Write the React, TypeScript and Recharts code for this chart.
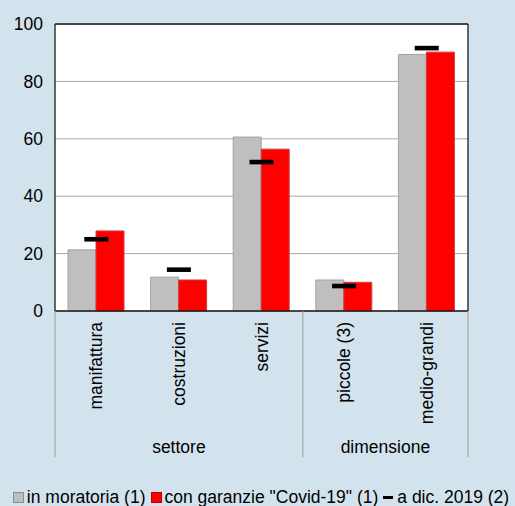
import React from 'react';
import {
  ComposedChart,
  Bar,
  Line,
  XAxis,
  YAxis,
  CartesianGrid,
  ReferenceLine,
  Legend,
} from 'recharts';

const categories = ['manifattura', 'costruzioni', 'servizi', 'piccole (3)', 'medio-grandi'];
const groups = ['settore', 'settore', 'settore', 'dimensione', 'dimensione'];
const moratoria = [21.3, 11.8, 60.6, 10.8, 89.4];
const garanzie = [27.9, 10.8, 56.4, 10.0, 90.2];
const dic2019 = [25.0, 14.4, 51.9, 8.7, 91.6];
const yTicks = [0, 20, 40, 60, 80, 100];

const seriesOrder = ['moratoria', 'garanzie', 'dic2019'];
const seriesNames = {
  moratoria: 'in moratoria (1)',
  garanzie: 'con garanzie "Covid-19" (1)',
  dic2019: 'a dic. 2019 (2)',
};

const data = categories.map((name, i) => ({
  name,
  group: groups[i],
  moratoria: moratoria[i],
  garanzie: garanzie[i],
  dic2019: dic2019[i],
}));

const W = 515;
const H = 506;
const LEFT_AXIS_W = 55;
const RIGHT_AXIS_W = 47;
const X_AXIS_H = 175;
const LEGEND_H = 20;
const PLOT_W = W - LEFT_AXIS_W - RIGHT_AXIS_W;
const BAND = PLOT_W / categories.length;

const FONT = '"Liberation Sans", Arial, Helvetica, sans-serif';
const FS = 17.5;
const BG = '#D3E3ED';

const XTick = (props: any) => {
  const { x, y, payload, index } = props;
  const i = index as number;
  const g = groups[i];
  const isFirst = i === 0 || groups[i - 1] !== g;
  const isLast = i === groups.length - 1;
  let span = 0;
  if (isFirst) {
    let j = i;
    while (j < groups.length && groups[j] === g) j++;
    span = j - i;
  }
  const ly = y + 11;
  return (
    <g>
      <text
        x={x}
        y={ly}
        transform={`rotate(-90, ${x}, ${ly})`}
        textAnchor="end"
        dominantBaseline="central"
        fontSize={FS}
        fontFamily={FONT}
        fill="#000"
      >
        {payload.value}
      </text>
      {isFirst && (
        <line x1={x - BAND / 2} x2={x - BAND / 2} y1={y} y2={y + 146} stroke="#9a9a9a" strokeWidth={1} />
      )}
      {isLast && (
        <line x1={x + BAND / 2} x2={x + BAND / 2} y1={y} y2={y + 146} stroke="#9a9a9a" strokeWidth={1} />
      )}
      {isFirst && (
        <text
          x={x - BAND / 2 + (span * BAND) / 2}
          y={y + 142}
          textAnchor="middle"
          fontSize={FS}
          fontFamily={FONT}
          fill="#000"
        >
          {g}
        </text>
      )}
    </g>
  );
};

const Dash = (props: any) => {
  const { cx, cy, index } = props;
  if (cx == null || cy == null) return <g key={`d-${index}`} />;
  return <rect key={`d-${index}`} x={cx - 12} y={cy - 2.3} width={24} height={4.6} fill="#000" />;
};

const LegendContent = (props: any) => {
  const payload = [...(props.payload || [])].sort(
    (a: any, b: any) => seriesOrder.indexOf(a.dataKey) - seriesOrder.indexOf(b.dataKey)
  );
  return (
    <div
      style={{
        display: 'flex',
        justifyContent: 'center',
        alignItems: 'center',
        fontFamily: FONT,
        fontSize: FS,
        color: '#000',
        height: LEGEND_H,
        paddingLeft: 12,
        marginTop: 1,
        whiteSpace: 'nowrap',
      }}
    >
      {payload.map((e: any, k: number) => {
        const isLine = e.type === 'line';
        return (
          <div key={k} style={{ display: 'flex', alignItems: 'center', marginRight: 5 }}>
            {isLine ? (
              <span style={{ display: 'inline-block', width: 10, height: 3, background: '#000', marginRight: 4 }} />
            ) : (
              <span
                style={{
                  display: 'inline-block',
                  width: 9,
                  height: 9,
                  background: e.color,
                  border: `1px solid ${e.dataKey === 'moratoria' ? '#8c8c8c' : '#c00000'}`,
                  marginRight: 3,
                }}
              />
            )}
            <span>{e.value}</span>
          </div>
        );
      })}
    </div>
  );
};

export default function App() {
  return (
    <div style={{ position: 'absolute', left: 0, top: 0, width: W, height: H, background: BG }}>
      <ComposedChart
        width={W}
        height={H}
        data={data}
        margin={{ top: 24, right: 0, bottom: 0, left: 0 }}
        barGap={0}
        style={{ fontFamily: FONT }}
      >
        <CartesianGrid
          yAxisId="left"
          vertical={false}
          stroke="#a8a8a8"
          fill="#ffffff"
        />
        <XAxis
          dataKey="name"
          height={X_AXIS_H}
          interval={0}
          tickLine={false}
          tickSize={0}
          tickMargin={0}
          axisLine={{ stroke: '#1a1a1a', strokeWidth: 1.3 }}
          tick={<XTick />}
        />
        <YAxis
          yAxisId="left"
          orientation="left"
          width={LEFT_AXIS_W}
          domain={[0, 100]}
          ticks={yTicks}
          tickLine={false}
          tickSize={0}
          tickMargin={12}
          axisLine={{ stroke: '#1a1a1a', strokeWidth: 1.3 }}
          tick={{ fill: '#000', fontSize: FS, fontFamily: FONT }}
        />
        <YAxis
          yAxisId="right"
          orientation="right"
          width={RIGHT_AXIS_W}
          domain={[0, 100]}
          ticks={yTicks}
          tickLine={false}
          tickSize={0}
          tickMargin={43}
          axisLine={{ stroke: '#1a1a1a', strokeWidth: 1.3 }}
          tick={{ fill: '#000', fontSize: FS, fontFamily: FONT, textAnchor: 'end' }}
        />
        <ReferenceLine yAxisId="left" y={100} stroke="#1a1a1a" strokeWidth={1.3} />
        <Bar
          yAxisId="left"
          dataKey="moratoria"
          name={seriesNames.moratoria}
          fill="#BFBFBF"
          stroke="#a3a3a3"
          strokeWidth={1}
          barSize={28}
          isAnimationActive={false}
        />
        <Bar
          yAxisId="left"
          dataKey="garanzie"
          name={seriesNames.garanzie}
          fill="#FF0000"
          stroke="#d23c3c"
          strokeWidth={1}
          barSize={28}
          isAnimationActive={false}
        />
        <Line
          yAxisId="left"
          dataKey="dic2019"
          name={seriesNames.dic2019}
          stroke="none"
          legendType="line"
          dot={Dash}
          activeDot={false}
          isAnimationActive={false}
        />
        <Legend verticalAlign="bottom" height={LEGEND_H} content={<LegendContent />} />
      </ComposedChart>
    </div>
  );
}
